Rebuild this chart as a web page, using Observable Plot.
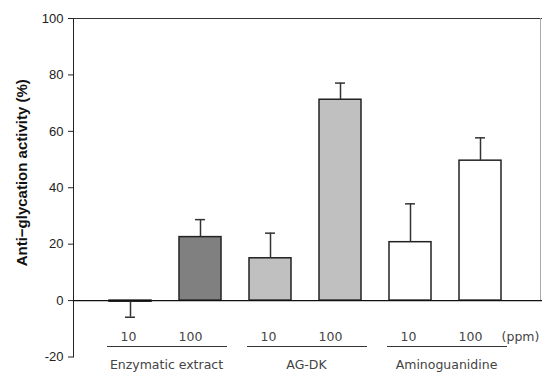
<!DOCTYPE html>
<html><head><meta charset="utf-8">
<script src="https://cdn.jsdelivr.net/npm/d3@7"></script>
<script src="https://cdn.jsdelivr.net/npm/@observablehq/plot@0.6"></script>
<style>body{margin:0;background:#fff}</style>
</head><body><div id="chart"></div>
<script>
const groups = ["Enzymatic extract", "AG-DK", "Aminoguanidine"];
const doses = ["10", "100"];
const values = [-0.4, 22.5, 15.0, 71.2, 20.7, 49.6];
const errors = [5.5, 6.2, 8.9, 5.9, 13.6, 8.1];
const yTicks = [-20, 0, 20, 40, 60, 80, 100];
const groupFills = ["#808080", "#c0c0c0", "#ffffff"];
const yLabel = "Anti\u2212glycation activity (%)";
const unitLabel = "(ppm)";

const data = [];
groups.forEach((g, gi) => doses.forEach((d, di) => {
  const i = gi * doses.length + di;
  const v = values[i];
  data.push({key: g + "|" + d, group: g, dose: d, value: v, end: v + Math.sign(v) * errors[i]});
}));
const keys = data.map(d => d.key);
const groupRows = groups.map(g => ({group: g, first: g + "|" + doses[0], last: g + "|" + doses[doses.length - 1]}));
const yMin = yTicks[0], yMax = yTicks[yTicks.length - 1];

const labelFont = {fontFamily: "'DejaVu Sans', sans-serif", fontSize: 12.5, fill: "#444", lineAnchor: "middle"};

const chart = Plot.plot({
  width: 543, height: 373,
  marginLeft: 73, marginRight: 1, marginTop: 18, marginBottom: 16.5,
  style: {fontFamily: "'Liberation Sans', Arial, sans-serif", fontSize: "13px", color: "#222", background: "#fff"},
  x: {domain: keys, axis: null, paddingInner: 0.405, paddingOuter: 0.524, align: 0.47},
  y: {domain: [yMin, yMax], ticks: yTicks, tickFormat: d => String(d), tickSize: 5, tickPadding: 5, label: null, line: true},
  color: {domain: groups, range: groupFills},
  marks: [
    Plot.ruleY([yMax], {stroke: "#333"}),
    Plot.ruleX([keys[keys.length - 1]], {x: d => d, y1: 0, y2: yMax, dx: 60, stroke: "#aaa"}),
    Plot.barY(data, {x: "key", y: "value", fill: "group", stroke: "#222", strokeWidth: 1.5}),
    Plot.ruleY([0], {stroke: "#111", strokeWidth: 1.3}),
    Plot.ruleX(data, {x: "key", y1: "value", y2: "end", stroke: "#333", strokeWidth: 1.5}),
    Plot.tickY(data, {x: "key", y: "end", insetLeft: 16, insetRight: 16, stroke: "#333", strokeWidth: 1.5}),
    Plot.text(data.filter(d => d.dose === doses[0]), {x: "key", text: "dose", frameAnchor: "bottom", dy: -20, dx: -2, ...labelFont}),
    Plot.text(data.filter(d => d.dose === doses[1]), {x: "key", text: "dose", frameAnchor: "bottom", dy: -20, dx: -10, ...labelFont}),
    Plot.text([unitLabel], {x: () => keys[keys.length - 1], text: d => d, frameAnchor: "bottom", dy: -20, dx: 40, ...labelFont}),
    Plot.ruleY(groupRows, {y: () => yMin, x1: "first", x2: "last", dy: -10.5, insetLeft: -2, insetRight: -6, stroke: "#333", strokeWidth: 1.2}),
    Plot.text(groupRows, {x: "first", text: "group", frameAnchor: "bottom", dy: 8, dx: 36, ...labelFont}),
    Plot.text([yLabel], {text: d => d, frameAnchor: "left", textAnchor: "middle", rotate: -90, dx: -51, dy: -15, fontSize: 15, fontWeight: "bold", fill: "#111"})
  ]
});
document.getElementById("chart").appendChild(chart);
</script>
</body></html>
